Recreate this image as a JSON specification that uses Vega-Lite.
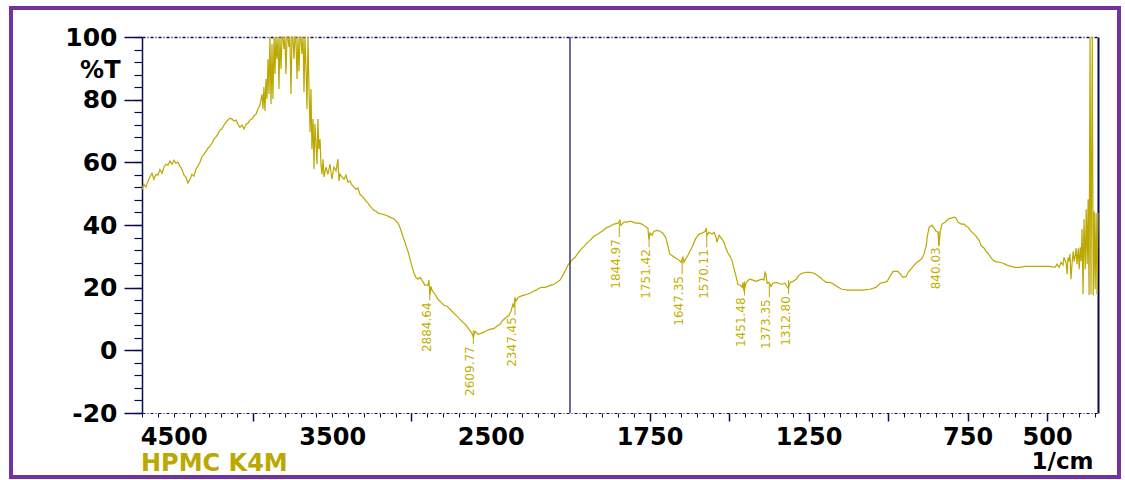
{
  "$schema": "https://vega.github.io/schema/vega-lite/v6.json",
  "width": 1108,
  "height": 469,
  "autosize": {"type": "none"},
  "padding": {"left": 11, "top": 8, "right": 6, "bottom": 3},
  "background": "white",
  "config": {
    "view": {"stroke": "#7232A0", "strokeWidth": 4},
    "axis": {
      "grid": false,
      "domainColor": "#0B0B55",
      "tickColor": "#0B0B55",
      "labelColor": "#000000",
      "labelFont": "DejaVu Sans",
      "titleFont": "DejaVu Sans",
      "titleColor": "#000000"
    }
  },
  "datasets": {
    "spectrum": [
      {"wn":4700,"T":51.4},{"wn":4688,"T":53.0},{"wn":4675,"T":52.1},{"wn":4662,"T":54.0},{"wn":4650,"T":55.3},
      {"wn":4637,"T":56.5},{"wn":4625,"T":54.6},{"wn":4612,"T":56.2},{"wn":4599,"T":55.9},{"wn":4587,"T":57.8},
      {"wn":4574,"T":56.5},{"wn":4561,"T":58.5},{"wn":4549,"T":59.4},{"wn":4536,"T":59.1},{"wn":4524,"T":60.4},
      {"wn":4511,"T":59.4},{"wn":4498,"T":60.7},{"wn":4486,"T":59.7},{"wn":4473,"T":60.1},{"wn":4461,"T":58.8},
      {"wn":4448,"T":57.8},{"wn":4435,"T":55.9},{"wn":4423,"T":55.3},{"wn":4410,"T":53.4},{"wn":4397,"T":54.6},
      {"wn":4385,"T":56.2},{"wn":4372,"T":55.6},{"wn":4360,"T":57.8},{"wn":4347,"T":58.8},{"wn":4334,"T":60.1},
      {"wn":4322,"T":61.7},{"wn":4309,"T":62.6},{"wn":4296,"T":63.6},{"wn":4284,"T":64.5},{"wn":4271,"T":65.2},
      {"wn":4259,"T":66.1},{"wn":4246,"T":67.4},{"wn":4233,"T":68.1},{"wn":4221,"T":69.0},{"wn":4208,"T":70.3},
      {"wn":4196,"T":70.6},{"wn":4183,"T":71.9},{"wn":4170,"T":72.8},{"wn":4158,"T":73.5},{"wn":4145,"T":74.1},
      {"wn":4132,"T":73.8},{"wn":4120,"T":73.2},{"wn":4107,"T":73.5},{"wn":4095,"T":72.2},{"wn":4082,"T":71.2},
      {"wn":4069,"T":71.9},{"wn":4057,"T":70.6},{"wn":4044,"T":72.2},{"wn":4031,"T":72.5},{"wn":4019,"T":73.5},
      {"wn":4006,"T":73.8},{"wn":3994,"T":74.8},{"wn":3981,"T":75.4},{"wn":3968,"T":77.0},{"wn":3956,"T":78.3},
      {"wn":3943,"T":81.8},{"wn":3937,"T":77.0},{"wn":3931,"T":84.0},{"wn":3924,"T":76.4},{"wn":3918,"T":86.6},
      {"wn":3912,"T":80.2},{"wn":3905,"T":93.0},{"wn":3899,"T":81.8},{"wn":3893,"T":100},{"wn":3886,"T":78.6},
      {"wn":3880,"T":97.8},{"wn":3874,"T":80.2},{"wn":3867,"T":100},{"wn":3861,"T":88.2},{"wn":3855,"T":100},
      {"wn":3849,"T":93.0},{"wn":3842,"T":100},{"wn":3836,"T":83.4},{"wn":3830,"T":100},{"wn":3823,"T":89.8},
      {"wn":3817,"T":100},{"wn":3811,"T":100},{"wn":3804,"T":96.2},{"wn":3798,"T":100},{"wn":3792,"T":88.2},
      {"wn":3785,"T":100},{"wn":3779,"T":100},{"wn":3773,"T":96.8},{"wn":3767,"T":100},{"wn":3760,"T":81.8},
      {"wn":3754,"T":100},{"wn":3748,"T":100},{"wn":3741,"T":93.0},{"wn":3735,"T":100},{"wn":3729,"T":100},
      {"wn":3722,"T":86.6},{"wn":3716,"T":100},{"wn":3710,"T":89.1},{"wn":3703,"T":100},{"wn":3697,"T":100},
      {"wn":3691,"T":94.6},{"wn":3684,"T":100},{"wn":3678,"T":82.4},{"wn":3672,"T":100},{"wn":3666,"T":91.4},
      {"wn":3659,"T":77.0},{"wn":3653,"T":100},{"wn":3647,"T":85.0},{"wn":3640,"T":69.6},{"wn":3634,"T":83.4},
      {"wn":3628,"T":64.2},{"wn":3621,"T":73.8},{"wn":3615,"T":57.8},{"wn":3609,"T":72.2},{"wn":3602,"T":65.8},
      {"wn":3596,"T":59.4},{"wn":3590,"T":73.8},{"wn":3584,"T":64.2},{"wn":3577,"T":67.4},{"wn":3571,"T":59.4},
      {"wn":3565,"T":56.2},{"wn":3558,"T":61.0},{"wn":3552,"T":55.3},{"wn":3539,"T":58.5},{"wn":3527,"T":56.2},
      {"wn":3514,"T":59.4},{"wn":3502,"T":54.6},{"wn":3489,"T":58.5},{"wn":3476,"T":57.2},{"wn":3464,"T":61.0},
      {"wn":3457,"T":54.0},{"wn":3451,"T":56.2},{"wn":3438,"T":55.3},{"wn":3426,"T":54.6},{"wn":3413,"T":55.9},
      {"wn":3401,"T":53.7},{"wn":3388,"T":54.0},{"wn":3375,"T":52.7},{"wn":3363,"T":52.1},{"wn":3350,"T":51.4},
      {"wn":3338,"T":51.8},{"wn":3325,"T":49.8},{"wn":3312,"T":49.2},{"wn":3300,"T":48.6},{"wn":3287,"T":47.6},
      {"wn":3274,"T":47.0},{"wn":3262,"T":46.0},{"wn":3249,"T":45.4},{"wn":3237,"T":44.7},{"wn":3224,"T":44.4},
      {"wn":3211,"T":43.8},{"wn":3186,"T":43.5},{"wn":3161,"T":43.1},{"wn":3136,"T":42.5},{"wn":3110,"T":41.9},
      {"wn":3085,"T":40.6},{"wn":3073,"T":39.3},{"wn":3054,"T":36.4},{"wn":3035,"T":33.5},{"wn":3022,"T":31.6},
      {"wn":3009,"T":29.1},{"wn":2997,"T":26.8},{"wn":2984,"T":24.6},{"wn":2972,"T":23.3},{"wn":2959,"T":22.7},
      {"wn":2946,"T":23.3},{"wn":2934,"T":22.4},{"wn":2915,"T":20.8},{"wn":2896,"T":20.8},{"wn":2890,"T":22.4},
      {"wn":2884.6,"T":17.6},{"wn":2877,"T":20.4},{"wn":2871,"T":19.2},{"wn":2852,"T":17.9},{"wn":2833,"T":16.3},
      {"wn":2814,"T":15.3},{"wn":2795,"T":14.4},{"wn":2776,"T":14.1},{"wn":2757,"T":13.1},{"wn":2732,"T":11.8},
      {"wn":2713,"T":10.9},{"wn":2694,"T":9.9},{"wn":2675,"T":8.9},{"wn":2656,"T":8.0},{"wn":2637,"T":6.7},
      {"wn":2618,"T":5.4},{"wn":2609.8,"T":4.2},{"wn":2599,"T":6.1},{"wn":2580,"T":5.1},{"wn":2562,"T":5.4},
      {"wn":2543,"T":5.8},{"wn":2524,"T":6.4},{"wn":2505,"T":6.7},{"wn":2479,"T":7.0},{"wn":2461,"T":7.7},
      {"wn":2442,"T":8.3},{"wn":2423,"T":9.6},{"wn":2404,"T":10.5},{"wn":2385,"T":11.2},{"wn":2372,"T":12.5},
      {"wn":2360,"T":14.7},{"wn":2353,"T":13.7},{"wn":2347.5,"T":16.9},{"wn":2341,"T":15.7},{"wn":2328,"T":16.9},
      {"wn":2309,"T":17.3},{"wn":2290,"T":17.6},{"wn":2271,"T":17.9},{"wn":2252,"T":18.2},{"wn":2233,"T":18.8},
      {"wn":2215,"T":19.2},{"wn":2196,"T":19.8},{"wn":2177,"T":20.1},{"wn":2158,"T":20.1},{"wn":2139,"T":20.4},
      {"wn":2120,"T":20.8},{"wn":2101,"T":21.1},{"wn":2082,"T":21.7},{"wn":2063,"T":22.4},{"wn":2044,"T":24.0},
      {"wn":2025,"T":25.9},{"wn":2013,"T":27.2},{"wn":2000,"T":28.1},
      {"wn":1994,"T":28.8},{"wn":1984,"T":29.7},{"wn":1975,"T":31.0},{"wn":1965,"T":32.3},{"wn":1956,"T":33.2},
      {"wn":1947,"T":34.2},{"wn":1937,"T":35.1},{"wn":1925,"T":36.4},{"wn":1912,"T":37.1},{"wn":1899,"T":38.0},
      {"wn":1887,"T":39.0},{"wn":1874,"T":39.6},{"wn":1862,"T":40.3},{"wn":1849,"T":40.6},{"wn":1843,"T":41.5},
      {"wn":1840,"T":39.9},{"wn":1830,"T":40.9},{"wn":1821,"T":40.9},{"wn":1811,"T":41.2},{"wn":1802,"T":40.9},
      {"wn":1792,"T":40.6},{"wn":1783,"T":40.6},{"wn":1774,"T":40.3},{"wn":1764,"T":39.6},{"wn":1755,"T":39.0},
      {"wn":1752,"T":35.5},{"wn":1748,"T":37.4},{"wn":1742,"T":36.7},{"wn":1736,"T":38.0},{"wn":1726,"T":38.3},
      {"wn":1717,"T":38.0},{"wn":1708,"T":37.4},{"wn":1698,"T":35.8},{"wn":1692,"T":33.2},{"wn":1686,"T":30.7},
      {"wn":1676,"T":30.0},{"wn":1667,"T":29.4},{"wn":1657,"T":28.8},{"wn":1651,"T":28.1},{"wn":1645,"T":29.7},
      {"wn":1642,"T":28.1},{"wn":1635,"T":29.4},{"wn":1629,"T":30.4},{"wn":1623,"T":31.6},{"wn":1616,"T":32.9},
      {"wn":1610,"T":34.5},{"wn":1604,"T":35.8},{"wn":1594,"T":37.1},{"wn":1585,"T":37.4},{"wn":1575,"T":38.0},
      {"wn":1572,"T":39.0},{"wn":1569,"T":36.7},{"wn":1563,"T":37.7},{"wn":1553,"T":37.1},{"wn":1547,"T":37.7},
      {"wn":1541,"T":36.1},{"wn":1538,"T":34.5},{"wn":1531,"T":36.7},{"wn":1522,"T":35.5},{"wn":1516,"T":34.5},
      {"wn":1509,"T":32.3},{"wn":1503,"T":31.0},{"wn":1497,"T":30.0},{"wn":1491,"T":28.8},{"wn":1484,"T":25.9},
      {"wn":1478,"T":23.6},{"wn":1472,"T":21.1},{"wn":1465,"T":20.8},{"wn":1459,"T":20.1},{"wn":1456,"T":21.7},
      {"wn":1453,"T":18.8},{"wn":1447,"T":21.4},{"wn":1440,"T":22.4},{"wn":1434,"T":22.7},{"wn":1425,"T":22.4},
      {"wn":1415,"T":22.0},{"wn":1406,"T":22.4},{"wn":1396,"T":22.7},{"wn":1390,"T":22.4},{"wn":1387,"T":24.9},
      {"wn":1384,"T":24.3},{"wn":1380,"T":21.4},{"wn":1374,"T":21.7},{"wn":1368,"T":20.4},{"wn":1362,"T":21.4},
      {"wn":1352,"T":21.7},{"wn":1343,"T":21.4},{"wn":1333,"T":21.1},{"wn":1324,"T":21.4},{"wn":1314,"T":19.8},
      {"wn":1308,"T":21.7},{"wn":1299,"T":22.0},{"wn":1289,"T":22.7},{"wn":1280,"T":24.0},{"wn":1270,"T":24.6},
      {"wn":1258,"T":24.9},{"wn":1245,"T":24.9},{"wn":1233,"T":24.6},{"wn":1223,"T":24.0},{"wn":1214,"T":23.3},
      {"wn":1204,"T":22.4},{"wn":1195,"T":21.7},{"wn":1182,"T":21.7},{"wn":1170,"T":21.1},{"wn":1157,"T":20.1},
      {"wn":1145,"T":19.5},{"wn":1126,"T":19.2},{"wn":1104,"T":19.2},{"wn":1082,"T":19.2},{"wn":1057,"T":19.5},
      {"wn":1038,"T":20.1},{"wn":1025,"T":21.4},{"wn":1013,"T":21.7},{"wn":1003,"T":22.0},{"wn":994,"T":23.6},
      {"wn":984,"T":25.2},{"wn":969,"T":25.2},{"wn":959,"T":24.0},{"wn":953,"T":23.3},{"wn":943,"T":23.6},
      {"wn":937,"T":24.9},{"wn":928,"T":25.9},{"wn":918,"T":27.2},{"wn":909,"T":28.1},{"wn":899,"T":28.8},
      {"wn":893,"T":29.4},{"wn":887,"T":30.7},{"wn":880,"T":33.5},{"wn":877,"T":36.1},{"wn":871,"T":39.3},
      {"wn":862,"T":39.9},{"wn":855,"T":39.0},{"wn":849,"T":38.0},{"wn":843,"T":37.7},{"wn":840,"T":33.2},
      {"wn":836,"T":38.0},{"wn":830,"T":40.3},{"wn":821,"T":40.9},{"wn":811,"T":41.9},{"wn":802,"T":42.2},
      {"wn":792,"T":42.5},{"wn":786,"T":42.2},{"wn":780,"T":40.9},{"wn":770,"T":40.3},{"wn":761,"T":40.3},
      {"wn":755,"T":39.6},{"wn":748,"T":39.3},{"wn":742,"T":38.3},{"wn":733,"T":37.4},{"wn":723,"T":36.4},
      {"wn":714,"T":35.1},{"wn":708,"T":33.5},{"wn":698,"T":32.6},{"wn":692,"T":31.6},{"wn":686,"T":31.0},
      {"wn":679,"T":30.0},{"wn":673,"T":29.1},{"wn":664,"T":28.4},{"wn":651,"T":28.1},{"wn":638,"T":27.8},
      {"wn":626,"T":27.2},{"wn":613,"T":26.8},{"wn":601,"T":26.5},{"wn":585,"T":26.5},{"wn":569,"T":26.8},
      {"wn":553,"T":26.8},{"wn":538,"T":26.8},{"wn":522,"T":26.8},{"wn":506,"T":26.8},{"wn":491,"T":26.8},
      {"wn":475,"T":26.5},{"wn":469,"T":27.5},{"wn":462,"T":26.5},{"wn":456,"T":28.1},{"wn":450,"T":27.2},
      {"wn":447,"T":29.7},{"wn":440,"T":27.8},{"wn":437,"T":24.3},{"wn":434,"T":29.7},{"wn":431,"T":28.4},
      {"wn":428,"T":30.7},{"wn":425,"T":22.7},{"wn":421,"T":28.4},{"wn":418,"T":31.6},{"wn":415,"T":28.4},
      {"wn":412,"T":30.0},{"wn":409,"T":32.6},{"wn":406,"T":27.5},{"wn":402,"T":32.6},{"wn":399,"T":25.9},
      {"wn":396,"T":32.9},{"wn":393,"T":28.4},{"wn":390,"T":38.7},{"wn":387,"T":17.9},{"wn":384,"T":41.9},
      {"wn":380,"T":25.9},{"wn":377,"T":45.0},{"wn":374,"T":27.5},{"wn":371,"T":48.2},{"wn":368,"T":17.6},
      {"wn":365,"T":100},{"wn":362,"T":17.9},{"wn":358,"T":100},{"wn":355,"T":17.6},{"wn":352,"T":44.4},
      {"wn":349,"T":19.5},{"wn":346,"T":43.8},{"wn":343,"T":17.9},{"wn":340,"T":43.8}
    ],
    "peaks": [
      {"wn":2884.64,"label":"2884.64","T":20.4},
      {"wn":2609.77,"label":"2609.77","T":6.4},
      {"wn":2347.45,"label":"2347.45","T":15.7},
      {"wn":1844.97,"label":"1844.97","T":40.6},
      {"wn":1751.42,"label":"1751.42","T":37.4},
      {"wn":1647.35,"label":"1647.35","T":28.8},
      {"wn":1570.11,"label":"1570.11","T":37.4},
      {"wn":1451.48,"label":"1451.48","T":22.0},
      {"wn":1373.35,"label":"1373.35","T":21.4},
      {"wn":1312.80,"label":"1312.80","T":22.4},
      {"wn":840.03,"label":"840.03","T":38.0}
    ],
    "scaleBreak": [{"wn":2000}]
  },
  "resolve": {"axis": {"x": "independent", "y": "independent"}},
  "layer": [
    {
      "data": {"name": "spectrum"},
      "mark": {"type": "line", "strokeWidth": 1.2, "interpolate": "linear"},
      "encoding": {
        "x": {
          "field": "wn", "type": "quantitative",
          "scale": {"type": "linear", "domain": [4700, 2000, 340], "range": [131, 559, 1087], "nice": false, "zero": false},
          "axis": {
            "orient": "bottom", "offset": -64,
            "values": [4500, 3500, 2500, 1750, 1250, 750, 500],
            "format": "d", "ticks": false, "labelPadding": 12,
            "labelFontSize": 24, "labelFontWeight": "bold",
            "labelOverlap": false, "labelFlush": false, "labelBound": false,
            "domain": true, "domainWidth": 1.2, "domainDash": [3, 2, 1, 2],
            "title": "1/cm", "titleX": 1082, "titleY": 48, "titleAlign": "right", "titleBaseline": "middle",
            "titleFontSize": 23, "titleFontWeight": "bold", "titleAngle": 0
          }
        },
        "y": {
          "field": "T", "type": "quantitative",
          "scale": {"type": "linear", "domain": [-20, 100], "range": [405, 29], "nice": false, "zero": false},
          "axis": {
            "orient": "left", "offset": -131,
            "values": [-20, 0, 20, 40, 60, 80, 100],
            "labelExpr": "datum.value < 0 ? '-' + abs(datum.value) : '' + datum.value",
            "tickSize": 18, "tickWidth": 1.5, "labelPadding": 7,
            "labelFontSize": 25, "labelFontWeight": "bold", "labelOverlap": false, "labelFlush": false,
            "domain": true, "domainWidth": 1.5,
            "title": "%T", "titleAngle": 0, "titleX": -22, "titleY": 62, "titleAlign": "right", "titleBaseline": "middle",
            "titleFontSize": 24, "titleFontWeight": "bold"
          }
        },
        "color": {
          "datum": "HPMC K4M", "type": "nominal",
          "scale": {"range": ["#BBA800"]},
          "legend": {
            "orient": "none", "legendX": 106, "legendY": 444, "title": null, "padding": 0,
            "symbolSize": 0, "symbolStrokeWidth": 0, "symbolOpacity": 0, "labelOffset": 0,
            "labelFont": "DejaVu Sans", "labelFontSize": 24, "labelFontWeight": "bold",
            "labelColor": "#BBA800", "labelLimit": 400
          }
        }
      }
    },
    {
      "data": {"name": "peaks"},
      "mark": {"type": "rule", "color": "#BBA800", "strokeWidth": 1, "y2Offset": 14},
      "encoding": {
        "x": {
          "field": "wn", "type": "quantitative",
          "axis": {
            "orient": "bottom", "offset": -64,
            "values": [4000, 3000, 1750, 1500, 1250, 1000, 750, 500],
            "tickSize": 8, "tickWidth": 1.5, "labels": false, "domain": false, "title": null
          }
        },
        "y": {
          "field": "T", "type": "quantitative",
          "axis": {
            "orient": "left", "offset": -131,
            "values": [-20, -16, -12, -8, -4, 0, 4, 8, 12, 16, 20, 24, 28, 32, 36, 40, 44, 48, 52, 56, 60, 64, 68, 72, 76, 80, 84, 88, 92, 96, 100],
            "tickSize": 8, "tickWidth": 1.2, "labels": false, "domain": false, "title": null
          }
        },
        "y2": {"field": "T"}
      }
    },
    {
      "data": {"name": "peaks"},
      "mark": {"type": "text", "angle": 270, "align": "right", "baseline": "alphabetic", "dx": -16, "dy": 1, "font": "DejaVu Sans", "fontSize": 12, "color": "#C2B000"},
      "encoding": {
        "x": {
          "field": "wn", "type": "quantitative",
          "axis": {
            "orient": "bottom", "offset": -64,
            "values": [4700, 4600, 4500, 4400, 4300, 4200, 4100, 4000, 3900, 3800, 3700, 3600, 3500, 3400, 3300, 3200, 3100, 3000, 2900, 2800, 2700, 2600, 2500, 2400, 2300, 2200, 2100, 1950, 1900, 1850, 1800, 1750, 1700, 1650, 1600, 1550, 1500, 1450, 1400, 1350, 1300, 1250, 1200, 1150, 1100, 1050, 1000, 950, 900, 850, 800, 750, 700, 650, 600, 550, 500, 450, 400, 350],
            "tickSize": 4, "tickWidth": 1, "labels": false, "domain": false, "title": null
          }
        },
        "y": {
          "field": "T", "type": "quantitative",
          "axis": {
            "orient": "right", "offset": -21,
            "ticks": false, "labels": false, "domain": true, "domainWidth": 2, "title": null
          }
        },
        "text": {"field": "label", "type": "nominal"}
      }
    },
    {
      "data": {"name": "scaleBreak"},
      "mark": {"type": "rule", "color": "#0B0B55", "strokeWidth": 1.2},
      "encoding": {
        "x": {
          "field": "wn", "type": "quantitative",
          "axis": {
            "orient": "top", "offset": -29,
            "ticks": false, "labels": false, "domain": true, "domainWidth": 1.5, "domainDash": [3, 2, 1, 2], "title": null
          }
        },
        "y": {"datum": -20, "type": "quantitative", "axis": null},
        "y2": {"datum": 100}
      }
    }
  ]
}
